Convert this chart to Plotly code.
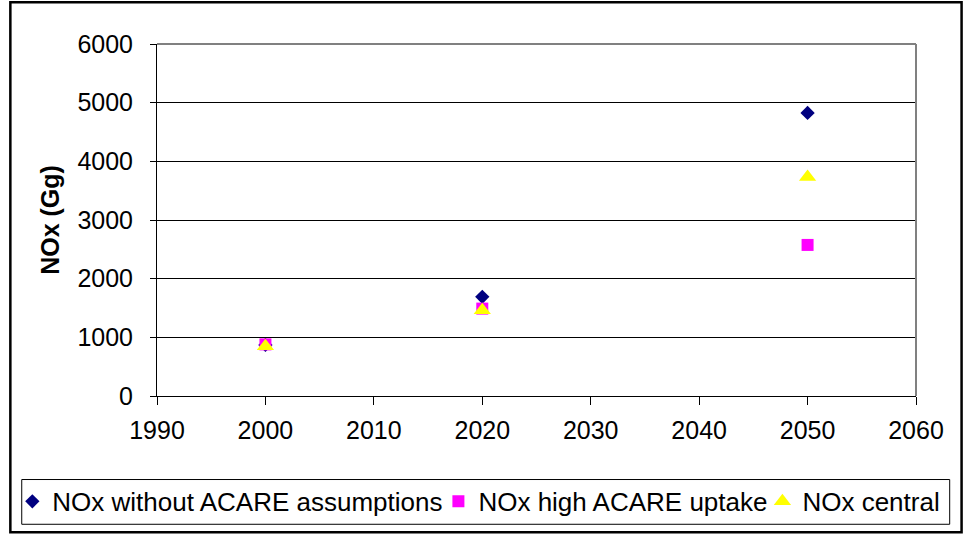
import plotly.graph_objects as go

# Jahre und Werte (Gg NOx)
years = [2000, 2020, 2050]
nox_without_acare = [870, 1690, 4825]
nox_high_acare = [880, 1490, 2575]
nox_central = [850, 1460, 3735]

series_names = ['NOx without ACARE assumptions', 'NOx high ACARE uptake', 'NOx central']

fig = go.Figure()
fig.add_trace(go.Scatter(x=years, y=nox_without_acare, mode='markers', name=series_names[0],
                         marker=dict(symbol='diamond', size=11, color='#000080'), legend='legend'))
fig.add_trace(go.Scatter(x=years, y=nox_high_acare, mode='markers', name=series_names[1],
                         marker=dict(symbol='square', size=12, color='#FF00FF'), legend='legend2'))
fig.add_trace(go.Scatter(x=years, y=nox_central, mode='markers', name=series_names[2],
                         marker=dict(symbol='triangle-up', size=15, color='#FFFF00'), legend='legend3'))

# Legenden einzeln platzieren (px -> paper)
def px_x(p):
    return (p - 150) / 766

leg_y = (398 - 504) / 354
leg_common = dict(orientation='h', y=leg_y, xanchor='left', yanchor='middle',
                  font=dict(size=26), bgcolor='rgba(0,0,0,0)', itemwidth=30)

fig.update_layout(
    width=965, height=537,
    margin=dict(l=150, r=49, t=44, b=139),
    paper_bgcolor='white', plot_bgcolor='white',
    font=dict(family='Liberation Sans, Arial', size=25, color='black'),
    showlegend=True,
    legend=dict(x=px_x(4), **leg_common),
    legend2=dict(x=px_x(434), **leg_common),
    legend3=dict(x=px_x(761), **leg_common),
    xaxis=dict(range=[1990, 2060], dtick=10, tick0=1990, showgrid=False, zeroline=False,
               showline=True, linecolor='black', linewidth=1,
               ticks='outside', ticklen=8, tickcolor='black', tickfont=dict(size=25),
               ticklabelstandoff=4),
    yaxis=dict(range=[0, 6000], dtick=1000, showgrid=True, gridcolor='black', gridwidth=1,
               zeroline=False, showline=True, linecolor='black', linewidth=1,
               ticks='outside', ticklen=6, tickcolor='black', tickfont=dict(size=25),
               ticklabelstandoff=12,
               title=dict(text='<b>NOx (Gg)</b>', font=dict(size=25), standoff=10)),
    shapes=[
        # grauer Rahmen oben/rechts
        dict(type='line', xref='paper', yref='paper', x0=0, x1=1, y0=1, y1=1,
             line=dict(color='#808080', width=2)),
        dict(type='line', xref='paper', yref='paper', x0=1, x1=1, y0=0, y1=1,
             line=dict(color='#808080', width=2)),
        # Legendenrahmen
        dict(type='rect', xref='paper', yref='paper', x0=px_x(13.5), x1=px_x(950),
             y0=(398 - 527) / 354, y1=(398 - 482) / 354,
             line=dict(color='black', width=1)),
        # Außenrahmen
        dict(type='rect', xref='paper', yref='paper', x0=px_x(2), x1=px_x(962),
             y0=(398 - 535) / 354, y1=(398 - 2) / 354,
             line=dict(color='black', width=2.5)),
    ],
)

fig.write_html('out.html', config={'displayModeBar': False},
               post_script="document.body.style.margin='0px';")
